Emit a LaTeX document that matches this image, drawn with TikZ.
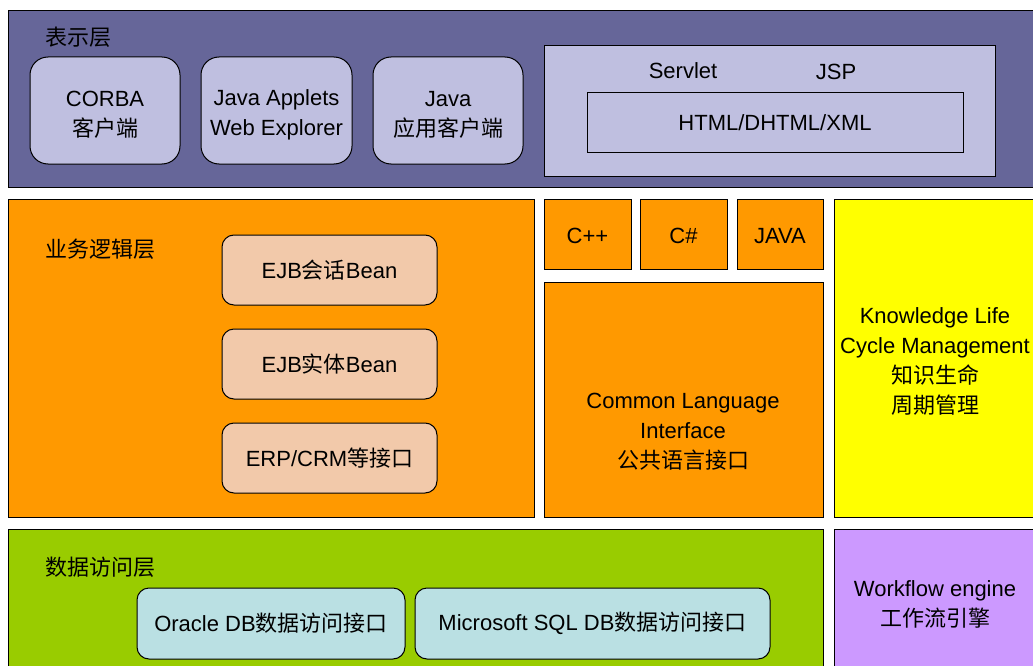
\documentclass[tikz,border=0pt]{standalone}
\usepackage{fontspec}
\setmainfont{Liberation Sans}
\newfontfamily\cjk{Noto Sans CJK SC}

\definecolor{presbg}{HTML}{666699}
\definecolor{presbox}{HTML}{BFBFE0}
\definecolor{logicbg}{HTML}{FF9900}
\definecolor{ejbbox}{HTML}{F2C9AA}
\definecolor{klmbg}{HTML}{FFFF00}
\definecolor{databg}{HTML}{99CC00}
\definecolor{dbbox}{HTML}{BAE0E3}
\definecolor{wfbg}{HTML}{CC99FF}

% invisible strut that pushes a centred text block down a little
\newcommand{\toppad}[1]{\rule{0pt}{#1}}

\tikzset{
  every node/.style={inner sep=0pt, outer sep=0pt, align=center,
    font=\fontsize{22}{30}\selectfont},
  area/.style={draw=black, line width=1pt, anchor=north west},
  roundbox/.style={area, rounded corners=#1},
  caption/.style={anchor=west},
}

\begin{document}
\begin{tikzpicture}[x=1pt, y=-1pt]
\useasboundingbox (0,0) rectangle (1033,666);
\clip (0,0) rectangle (1033,666);

% presentation tier
\node[area, fill=presbg, minimum width=1028pt, minimum height=176pt] (pres) at (8,11) {};
\node[caption] (presl) at (45,37) {\cjk 表示层};
\node[roundbox=18pt, fill=presbox, minimum width=150pt, minimum height=107pt] (corba) at (30,57)
  {\toppad{24pt}CORBA\\{\cjk 客户端}};
\node[roundbox=18pt, fill=presbox, minimum width=151pt, minimum height=107pt] (applets) at (201,57)
  {\toppad{24pt}Java Applets\\Web Explorer};
\node[roundbox=18pt, fill=presbox, minimum width=150pt, minimum height=107pt] (javaapp) at (373,57)
  {\toppad{24pt}Java\\{\cjk 应用客户端}};
\node[area, fill=presbox, minimum width=451pt, minimum height=130pt] (web) at (544,46) {};
\node (servlet) at (683,71) {Servlet};
\node (jsp) at (836,72) {JSP};
\node[area, fill=presbox, minimum width=376pt, minimum height=59pt] (html) at (587,93) {HTML/DHTML/XML};

% business logic tier
\node[area, fill=logicbg, minimum width=526pt, minimum height=318pt] (logic) at (8,199) {};
\node[caption] (logicl) at (45,249) {\cjk 业务逻辑层};
\node[roundbox=12pt, fill=ejbbox, minimum width=215pt, minimum height=70pt] (ejbs) at (222,235)
  {EJB{\cjk 会话}Bean};
\node[roundbox=12pt, fill=ejbbox, minimum width=215pt, minimum height=70pt] (ejbe) at (222,329)
  {EJB{\cjk 实体}Bean};
\node[roundbox=12pt, fill=ejbbox, minimum width=215pt, minimum height=70pt] (erp) at (222,423)
  {ERP/CRM{\cjk 等接口}};

\node[area, fill=logicbg, minimum width=87pt, minimum height=70pt] (cpp) at (544,199) {\toppad{20pt}C++};
\node[area, fill=logicbg, minimum width=87pt, minimum height=70pt] (cs) at (640,199) {\toppad{20pt}C\#};
\node[area, fill=logicbg, minimum width=86pt, minimum height=70pt] (java) at (737,199) {\toppad{20pt}JAVA};
\node[area, fill=logicbg, minimum width=279pt, minimum height=235pt] (cli) at (544,282) {};
\node (clil) at (683,432) {Common Language\\Interface\\{\cjk 公共语言接口}};

\node[area, fill=klmbg, minimum width=202pt, minimum height=318pt] (klm) at (834,199)
  {\toppad{22pt}Knowledge Life\\Cycle Management\\{\cjk 知识生命}\\{\cjk 周期管理}};

% data access tier
\node[area, fill=databg, minimum width=815pt, minimum height=146pt] (data) at (8,529) {};
\node[caption] (datal) at (45,567) {\cjk 数据访问层};
\node[roundbox=12pt, fill=dbbox, minimum width=268pt, minimum height=71pt] (oracle) at (137,588)
  {Oracle DB{\cjk 数据访问接口}};
\node[roundbox=12pt, fill=dbbox, minimum width=355pt, minimum height=71pt] (mssql) at (415,588)
  {Microsoft SQL DB{\cjk 数据访问接口}};

\node[area, fill=wfbg, minimum width=202pt, minimum height=146pt] (wf) at (834,529)
  {\toppad{20pt}Workflow engine\\{\cjk 工作流引擎}};
\end{tikzpicture}
\end{document}
